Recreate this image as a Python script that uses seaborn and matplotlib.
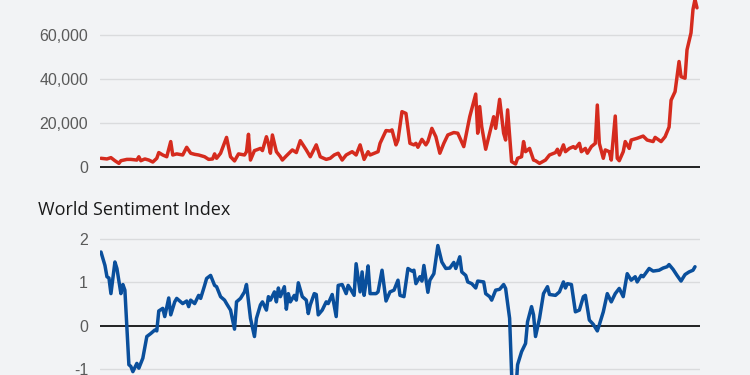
import pandas as pd
import matplotlib
matplotlib.use("Agg")
import matplotlib.pyplot as plt
import seaborn as sns
from matplotlib.ticker import FuncFormatter

# ----------- Data (monthly index) -----------
top_month = [0, 3, 5, 7, 9, 10, 13, 15, 18, 19, 20, 22, 24, 26, 28, 29, 31, 33, 35, 36,
             38, 41, 43, 45, 47, 49, 52, 54, 56, 57, 58, 60, 63, 65, 67, 69, 72, 73, 74, 75,
             77, 78, 80, 81, 83, 84, 85, 86, 88, 90, 91, 93, 96, 98, 100, 103, 105, 108, 110, 113,
             115, 117, 119, 121, 123, 126, 128, 130, 132, 134, 135, 138, 139, 140, 143, 145, 146, 148, 149, 151,
             153, 155, 157, 158, 159, 161, 163, 164, 166, 168, 170, 172, 174, 177, 179, 182, 183, 185, 188, 189,
             190, 191, 193, 195, 197, 198, 200, 202, 203, 204, 206, 208, 209, 211, 212, 213, 215, 217, 218, 220,
             223, 225, 228, 229, 230, 232, 233, 235, 237, 238, 240, 241, 243, 244, 246, 248, 249, 250, 252, 253,
             255, 256, 258, 259, 260, 262, 263, 265, 266, 269, 272, 274, 277, 278, 281, 283, 285, 286, 288, 290,
             291, 293, 294, 296, 297, 298, 299]
top_value = [4100, 3800, 4400, 3000, 1800, 3000, 3600, 3600, 3300, 4800, 3000, 3800, 3300, 2400, 4100, 6700, 5600, 4800, 11700, 5600,
             6100, 5600, 9100, 6400, 5900, 5600, 4800, 3600, 3800, 6100, 4100, 6400, 13600, 4800, 2900, 6100, 5600, 7100, 15000, 3300,
             7600, 7900, 8600, 7600, 13900, 10900, 6400, 14700, 7100, 4800, 3300, 5200, 7900, 6700, 12100, 7900, 4800, 10200, 4800, 3600,
             4100, 5600, 6400, 3300, 5600, 7100, 5600, 10200, 3600, 7100, 5600, 6700, 7100, 10900, 16700, 16500, 17000, 10200, 12400, 25300,
             24500, 10900, 10200, 10900, 9100, 12700, 10200, 11700, 17700, 13900, 6400, 10900, 14700, 15800, 15500, 9400, 13900, 23000, 33300, 15500,
             27600, 18500, 8200, 15500, 23000, 17700, 30900, 15500, 12400, 26100, 2600, 1500, 4100, 4800, 11700, 7100, 8600, 3300, 3000, 1800,
             3300, 5600, 6700, 8200, 5600, 10200, 7100, 8600, 9400, 8600, 10900, 7100, 8600, 6400, 9400, 10900, 28300, 10900, 4100, 7900,
             7100, 3300, 23300, 4100, 3000, 7100, 11700, 8600, 12400, 13200, 14200, 12400, 11700, 13600, 11700, 13900, 18300, 30500, 34400, 48100,
             41200, 40500, 53400, 61100, 71800, 76300, 72500]

sent_month = [0, 2, 3, 4, 5, 7, 8, 10, 11, 12, 14, 15, 16, 18, 19, 21, 23, 25, 27, 28,
              29, 31, 32, 34, 35, 37, 38, 40, 41, 43, 44, 45, 47, 49, 50, 52, 53, 55, 57, 58,
              60, 62, 63, 65, 67, 68, 70, 72, 73, 74, 75, 77, 78, 80, 81, 83, 84, 85, 87, 88,
              89, 90, 92, 93, 94, 95, 97, 98, 99, 101, 103, 104, 105, 107, 108, 109, 111, 113, 114, 116,
              118, 119, 121, 123, 124, 125, 127, 128, 130, 131, 132, 133, 134, 135, 138, 139, 141, 143, 145, 147,
              149, 150, 152, 154, 156, 157, 158, 160, 161, 162, 164, 165, 167, 169, 171, 173, 175, 177, 178, 180,
              181, 183, 184, 186, 188, 189, 192, 193, 195, 196, 198, 200, 202, 203, 205, 206, 207, 208, 209, 211,
              213, 214, 216, 217, 218, 220, 222, 224, 225, 228, 230, 232, 233, 234, 236, 238, 240, 242, 243, 245,
              247, 249, 250, 252, 254, 256, 258, 260, 262, 264, 266, 268, 269, 271, 272, 275, 277, 280, 282, 284,
              285, 287, 289, 291, 293, 295, 297, 298]
sent_value = [1.70, 1.39, 1.13, 1.10, 0.74, 1.47, 1.32, 0.74, 0.95, 0.82, -0.90, -0.94, -1.06, -0.87, -0.98, -0.75, -0.25, -0.18, -0.10, -0.12,
              0.34, 0.40, 0.21, 0.64, 0.25, 0.55, 0.63, 0.55, 0.51, 0.57, 0.44, 0.59, 0.51, 0.70, 0.63, 0.93, 1.09, 1.16, 0.93, 0.90,
              0.67, 0.59, 0.51, 0.36, -0.08, 0.55, 0.63, 0.78, 0.95, 0.55, 0.17, -0.25, 0.17, 0.48, 0.55, 0.36, 0.67, 0.59, 0.78, 0.55,
              0.87, 0.67, 0.90, 0.38, 0.74, 0.55, 0.70, 0.59, 0.99, 0.67, 0.59, 0.28, 0.48, 0.74, 0.72, 0.25, 0.36, 0.55, 0.51, 0.72,
              0.21, 0.93, 0.95, 0.74, 0.93, 0.86, 0.70, 1.43, 0.78, 1.24, 0.70, 1.01, 1.38, 0.74, 0.74, 0.78, 1.28, 0.57, 0.78, 0.82,
              1.05, 0.70, 0.67, 1.32, 1.26, 1.28, 0.97, 1.13, 1.03, 1.39, 0.77, 1.05, 1.20, 1.85, 1.47, 1.32, 1.33, 1.46, 1.32, 1.59,
              1.24, 1.16, 1.01, 0.97, 0.87, 1.03, 1.01, 0.74, 0.67, 0.59, 0.82, 0.84, 0.95, 0.86, 0.17, -1.13, -1.75, -1.60, -0.90, -0.60,
              -0.41, 0.09, 0.44, 0.25, -0.25, 0.17, 0.74, 0.90, 0.72, 0.70, 0.78, 1.01, 0.87, 0.97, 0.95, 0.32, 0.36, 0.67, 0.70, 0.13,
              0.03, -0.12, 0.02, 0.32, 0.74, 0.55, 0.74, 0.86, 0.67, 1.20, 1.05, 1.13, 1.01, 1.16, 1.13, 1.32, 1.26, 1.28, 1.33, 1.36,
              1.41, 1.30, 1.16, 1.03, 1.18, 1.24, 1.28, 1.36]

top_ticks = [0, 20000, 40000, 60000, 80000]
sent_ticks = [-1, 0, 1, 2]

df_top = pd.DataFrame({"month": top_month, "value": top_value})
df_sent = pd.DataFrame({"month": sent_month, "value": sent_value})

BG = "#f2f3f5"
RED = "#d52b1e"
BLUE = "#0a4f9c"

sns.set_theme(style="white", rc={"figure.facecolor": BG, "axes.facecolor": BG})
plt.rcParams["font.family"] = ["Liberation Sans", "DejaVu Sans"]

fig = plt.figure(figsize=(7.5, 3.75), dpi=100)
ax_top = fig.add_axes([0.1333, 0.5421, 0.8, 0.4928])
ax_bot = fig.add_axes([0.1333, -0.0997, 0.8, 0.4739])

sns.lineplot(x="month", y="value", data=df_top, ax=ax_top, color=RED, linewidth=2.5,
             solid_joinstyle="round", zorder=3)
sns.lineplot(x="month", y="value", data=df_sent, ax=ax_bot, color=BLUE, linewidth=2.5,
             solid_joinstyle="round", zorder=3)

for ax, ticks, ylim in [(ax_top, top_ticks, (-2000, 82000)), (ax_bot, sent_ticks, (-2.0, 2.1))]:
    ax.set_xlim(-0.5, 300.5)
    ax.set_ylim(*ylim)
    ax.set_yticks(ticks)
    ax.set_xticks([])
    ax.set_xlabel("")
    ax.set_ylabel("")
    for s in ax.spines.values():
        s.set_visible(False)
    for t in ticks:
        if t != 0:
            ax.axhline(t, color="#dadbdd", linewidth=1.0, zorder=1)
    ax.axhline(0, color="#111111", linewidth=1.3, zorder=2)
    ax.tick_params(axis="y", length=0, pad=8.6, labelsize=11.5, labelcolor="#5a5a5a")

ax_top.yaxis.set_major_formatter(FuncFormatter(lambda v, p: f"{v:,.0f}"))
ax_bot.yaxis.set_major_formatter(FuncFormatter(lambda v, p: f"{v:.0f}"))

fig.text(0.051, 1 - 215 / 375, "World Sentiment Index", fontsize=13, color="#1a1a1a",
         family=["Open Sans", "DejaVu Sans"], ha="left", va="baseline")

fig.savefig("out.png", dpi=100, facecolor=BG)
